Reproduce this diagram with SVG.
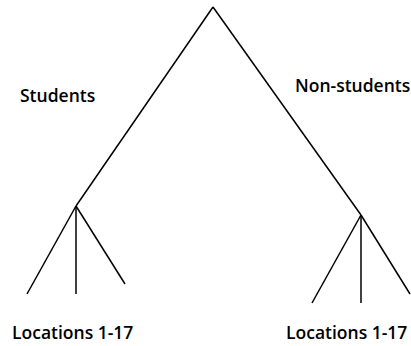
<svg xmlns="http://www.w3.org/2000/svg" width="411" height="346" viewBox="0 0 411 346">
<style>
.e{stroke:#000;stroke-width:1.5;fill:none;stroke-linecap:butt}
.t{font-family:"Open Sans","Liberation Sans",sans-serif;font-weight:600;font-size:17.5px;fill:#000}
</style>
<rect width="411" height="346" fill="#fff"/>
<g id="connectors">
<line class="e" x1="213" y1="7" x2="76" y2="206"/>
<line class="e" x1="213" y1="7" x2="361" y2="215"/>
<line class="e" x1="76" y1="206" x2="27" y2="294"/>
<line class="e" x1="76" y1="206" x2="76" y2="294"/>
<line class="e" x1="76" y1="206" x2="125" y2="284"/>
<line class="e" x1="361" y1="215" x2="312" y2="303"/>
<line class="e" x1="361" y1="215" x2="361" y2="303"/>
<line class="e" x1="361" y1="215" x2="410" y2="294"/>
</g>
<g id="root"></g>
<g id="students"><text class="t" x="20" y="102">Students</text></g>
<g id="non-students"><text class="t" x="295" y="92">Non-students</text></g>
<g id="loc-left"><text class="t" x="12" y="339">Locations 1-17</text></g>
<g id="loc-right"><text class="t" x="286" y="339">Locations 1-17</text></g>
</svg>
